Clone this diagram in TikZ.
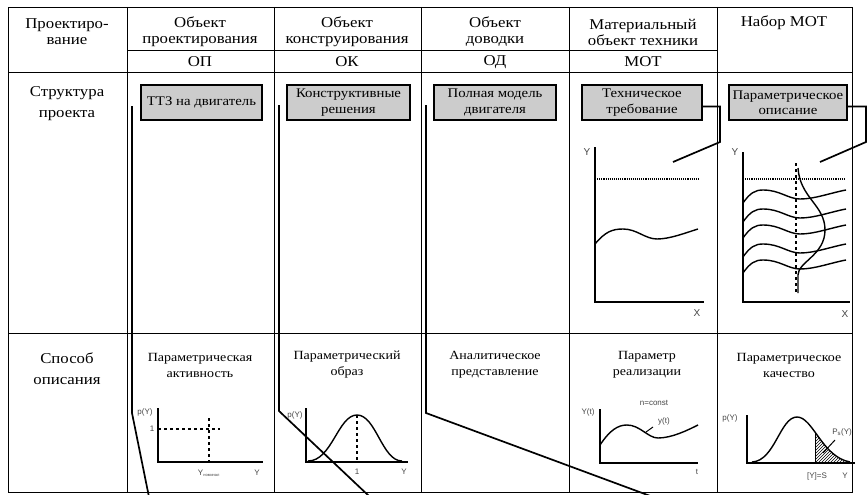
\documentclass[tikz,border=0pt]{standalone}
\usepackage{fontspec}
\setmainfont[FakeStretch=1.12]{Liberation Serif}
\newfontfamily\gfont{Liberation Sans}
\usetikzlibrary{patterns,calc}
\definecolor{boxgray}{RGB}{204,204,204}
\definecolor{labgray}{RGB}{70,70,70}
\begin{document}
\begin{tikzpicture}[x=1pt,y=-1pt,
 grid/.style={line width=0.8pt},
 link/.style={line width=1.7pt},
 axis/.style={line width=1.4pt},
 curve/.style={line width=1.4pt},
 hdr/.style={font=\fontsize{15}{16}\selectfont, align=center, inner sep=0},
 rowlab/.style={font=\fontsize{15}{21}\selectfont, align=center, inner sep=0},
 sub/.style={font=\fontsize{12.5}{16}\selectfont, align=center, inner sep=0},
 gbox/.style={draw, line width=1.2pt, fill=boxgray, font=\fontsize{13.2}{15.5}\selectfont, align=center, inner sep=0, minimum height=35pt},
 glab/.style={font=\gfont\fontsize{8}{9}\selectfont, text=labgray, inner sep=0},
 glabbig/.style={font=\gfont\fontsize{10}{11}\selectfont, text=labgray, inner sep=0},
 ]
\useasboundingbox (0,0) rectangle (868,495);
\fill[white] (0,0) rectangle (868,495);

% table grid
\draw[grid] (8,7) rectangle (852,492);
\foreach \x in {127,274,421,569,717} \draw[grid] (\x,7) -- (\x,492);
\draw[grid] (127,50) -- (717,50);
\draw[grid] (8,72) -- (852,72);
\draw[grid] (8,333) -- (852,333);

% header
\node[hdr] (h1) at (67,32) {Проектиро-\\вание};
\node[hdr] (h2) at (200,32) {Объект\\проектирования};
\node[hdr] (h3) at (347,32) {Объект\\конструирования};
\node[hdr] (h4) at (495,32) {Объект\\доводки};
\node[hdr] (h5) at (643,32) {Материальный\\объект техники};
\node[hdr] (h6) at (784,23) {Набор МОТ};
\node[hdr] (a2) at (200,62) {ОП};
\node[hdr] (a3) at (347,62) {ОК};
\node[hdr] (a4) at (495,62) {ОД};
\node[hdr] (a5) at (643,62) {МОТ};

% row labels
\node[rowlab] (r1) at (67,104) {Структура\\проекта};
\node[rowlab] (r2) at (67,369) {Способ\\описания};

% boxes
\node[gbox, minimum width=121pt] (b1) at (201.5,102.5) {ТТЗ на двигатель};
\node[gbox, minimum width=123pt] (b2) at (348.5,102.5) {Конструктивные\\решения};
\node[gbox, minimum width=122pt] (b3) at (495,102.5) {Полная модель\\двигателя};
\node[gbox, minimum width=120pt] (b4) at (642,102.5) {Техническое\\требование};
\node[gbox, minimum width=118pt] (b5) at (788,102.5) {Параметрическое\\описание};

% connectors from boxes to graphs
\coordinate (c4) at (673,162);
\coordinate (c5) at (820,162);
\draw[link] ([yshift=-4pt]b4.east) -| (720,142) -- (c4);
\draw[link] ([yshift=-4pt]b5.east) -| (866,142) -- (c5);

% long lines
\coordinate (l1a) at (132,106); \coordinate (l1b) at (132,413); \coordinate (l1c) at (149,497);
\coordinate (l2a) at (279,105); \coordinate (l2b) at (279,411); \coordinate (l2c) at (370,497);
\coordinate (l3a) at (426,105); \coordinate (l3b) at (426,413); \coordinate (l3c) at (653,497);
\draw[link] (l1a) -- (l1b) -- (l1c);
\draw[link] (l2a) -- (l2b) -- (l2c);
\draw[link] (l3a) -- (l3b) -- (l3c);

% top graph MOT
\draw[axis] (595,147) -- (595,302) -- (704,302);
\node[glabbig] (y4) at (587,152) {Y};
\node[glabbig] (x4) at (697,313) {X};
\draw[line width=1.1pt, densely dotted] (595,179) -- (698,179);
\draw[curve] (595,244) .. controls (605,232) and (612,229) .. (623,229) .. controls (637,229) and (645,239) .. (657,239) .. controls (670,239) and (685,233) .. (698,229);

% top graph Набор МОТ
\draw[axis] (743,152) -- (743,302) -- (850,302);
\node[glabbig] (y5) at (735,152) {Y};
\node[glabbig] (x5) at (845,314) {X};
\draw[line width=1.1pt, densely dotted] (743,179) -- (845,179);
\draw[line width=1.4pt, dashed] (796,163) -- (796,293);
\draw[curve] (798,168) .. controls (800,198) and (825,205) .. (825,230) .. controls (825,255) and (798,262) .. (798,275) -- (798,293);
\foreach \s in {203,222,238,257,273}
  \draw[curve] (743,\s) .. controls (750,\s-10) and (755,\s-13) .. (763,\s-13) .. controls (780,\s-13) and (788,\s-4) .. (800,\s-4) .. controls (815,\s-4) and (830,\s-10) .. (846,\s-13);

% bottom labels
\node[sub] (s2) at (200,365) {Параметрическая\\активность};
\node[sub] (s3) at (347,365) {Параметрический\\образ};
\node[sub] (s4) at (495,365) {Аналитическое\\представление};
\node[sub] (s5) at (647,365) {Параметр\\реализации};
\node[sub] (s6) at (789,365) {Параметрическое\\качество};

% graph col2
\draw[axis] (158,408) -- (158,462) -- (263,462);
\draw[line width=1.2pt, dashed] (158,429) -- (220,429);
\draw[line width=1.2pt, dashed] (209,418) -- (209,462);
\node[glab] (p2) at (145,412) {p(Y)};
\node[glab] (o2) at (152,429) {1};
\node[glab] (n2) at (209,473) {Y\textsubscript{\fontsize{4}{4}\selectfont номинал}};
\node[glab] (q2) at (257,473) {Y};

% graph col3
\draw[axis] (306,408) -- (306,462) -- (408,462);
\draw[curve] (308,461) .. controls (332,461) and (338,415) .. (357,415) .. controls (376,415) and (382,461) .. (402,461);
\draw[line width=1.2pt, dashed] (357,415) -- (357,462);
\node[glab] (p3) at (295,415) {p(Y)};
\node[glab] (o3) at (357,472) {1};
\node[glab] (q3) at (404,472) {Y};

% graph col5
\draw[axis] (600,409) -- (600,463) -- (698,463);
\draw[curve] (600,445) .. controls (610,430) and (618,425) .. (627,425) .. controls (640,425) and (648,438) .. (658,438) .. controls (672,438) and (688,430) .. (698,425);
\draw[line width=1pt] (646,432) -- (653,427);
\node[glab] (p5) at (588,412) {Y(t)};
\node[glab] (n5) at (654,403) {n=const};
\node[glab] (y5t) at (664,421) {y(t)};
\node[glab] (t5) at (697,472) {t};

% graph col6
\draw[axis] (747,415) -- (747,463) -- (855,463);
\begin{scope}
  \clip (752,462) .. controls (775,461) and (780,417) .. (797,417) .. controls (813,417) and (822,457) .. (850,462) -- cycle;
  \fill[pattern=north east lines] (815,410) rectangle (856,464);
  \draw[line width=1pt] (815,410) -- (815,463);
\end{scope}
\draw[curve] (752,462) .. controls (775,461) and (780,417) .. (797,417) .. controls (813,417) and (822,457) .. (850,462);
\draw[line width=1pt] (823,453) -- (835,440);
\node[glab] (p6) at (730,418) {p(Y)};
\node[glab] (ps6) at (842,432) {P\textsubscript{s}(Y)};
\node[glab] (s6l) at (817,476) {[Y]=S};
\node[glab] (q6) at (845,476) {Y};
\end{tikzpicture}
\end{document}
